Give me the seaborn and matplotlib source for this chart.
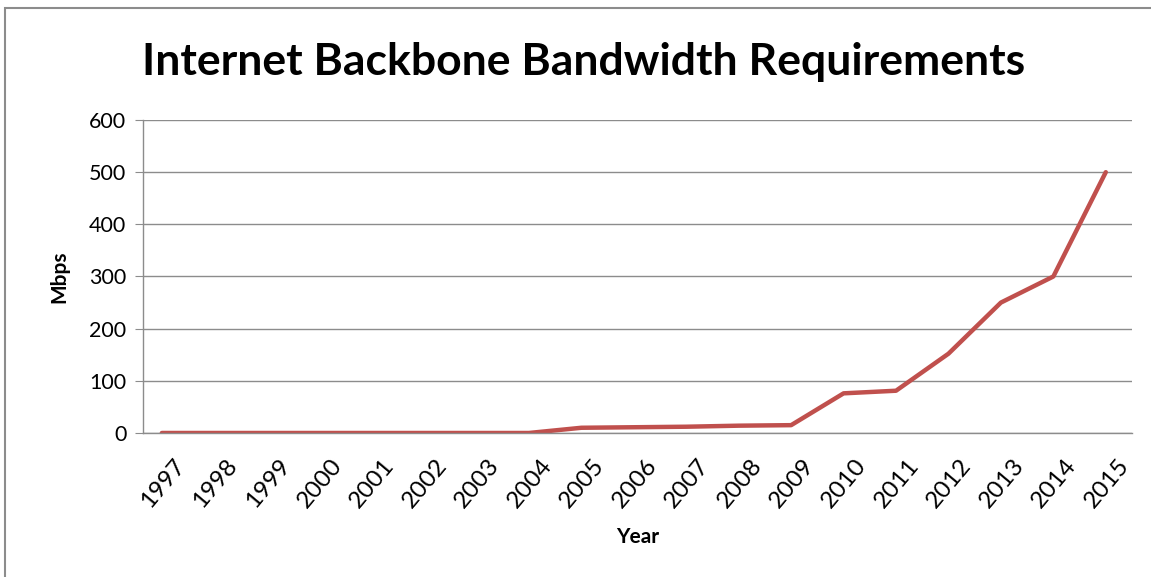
import matplotlib.pyplot as plt
import matplotlib.transforms as mtransforms
import seaborn as sns
import pandas as pd
from matplotlib.patches import Rectangle

# datos
years = ['1997', '1998', '1999', '2000', '2001', '2002', '2003', '2004', '2005', '2006',
         '2007', '2008', '2009', '2010', '2011', '2012', '2013', '2014', '2015']
mbps = [0, 0, 0, 0, 0, 0, 0, 0, 10, 11, 12, 14, 15, 76, 81, 152, 250, 300, 500]

df = pd.DataFrame({'Year': years, 'Mbps': mbps})

sns.set_style("white")
plt.rcParams['font.family'] = ['Lato', 'DejaVu Sans']
plt.rcParams['text.color'] = 'black'
plt.rcParams['xtick.color'] = 'black'
plt.rcParams['ytick.color'] = 'black'
plt.rcParams['axes.labelcolor'] = 'black'

fig = plt.figure(figsize=(11.51, 5.77), dpi=100)
ax = fig.add_axes([0.1242, 0.2496, 0.8593, 0.5424])

sns.lineplot(data=df, x='Year', y='Mbps', color='#C0504D', linewidth=3.2, ax=ax, sort=False)

ax.set_ylim(0, 600)
ax.set_xlim(-0.36, 18.5)
ax.set_yticks(range(0, 601, 100))
ax.yaxis.grid(True, color='#8c8c8c', linewidth=1)
ax.xaxis.grid(False)
ax.set_axisbelow(True)

for s in ['top', 'right']:
    ax.spines[s].set_visible(False)
for s in ['left', 'bottom']:
    ax.spines[s].set_color('#8c8c8c')
    ax.spines[s].set_linewidth(1)

ax.tick_params(axis='y', left=True, length=6, color='#8c8c8c', labelsize=15.5, pad=6)
ax.tick_params(axis='x', bottom=False, length=0, labelsize=17.5, pad=16)
offset = mtransforms.ScaledTranslation(0.11, 0, fig.dpi_scale_trans)
for lab in ax.get_xticklabels():
    lab.set_rotation(50)
    lab.set_ha('right')
    lab.set_va('top')
    lab.set_rotation_mode('anchor')
    lab.set_transform(lab.get_transform() + offset)

ax.set_xlabel('Year', fontsize=15, weight='bold')
ax.xaxis.set_label_coords(0.5, -0.3)
ax.set_ylabel('Mbps', fontsize=15, weight='bold', labelpad=14)

fig.text(0.507, 0.892, 'Internet Backbone Bandwidth Requirements', ha='center', va='center',
         fontsize=32, weight='bold', color='black')

# marco exterior estilo Excel
fig.patches.append(Rectangle((5 / 1151, -0.05), 1.2, (577 - 8) / 577 + 0.05,
                             transform=fig.transFigure, fill=False,
                             edgecolor='#8c8c8c', linewidth=1.5))

plt.savefig('out.png', dpi=100)
